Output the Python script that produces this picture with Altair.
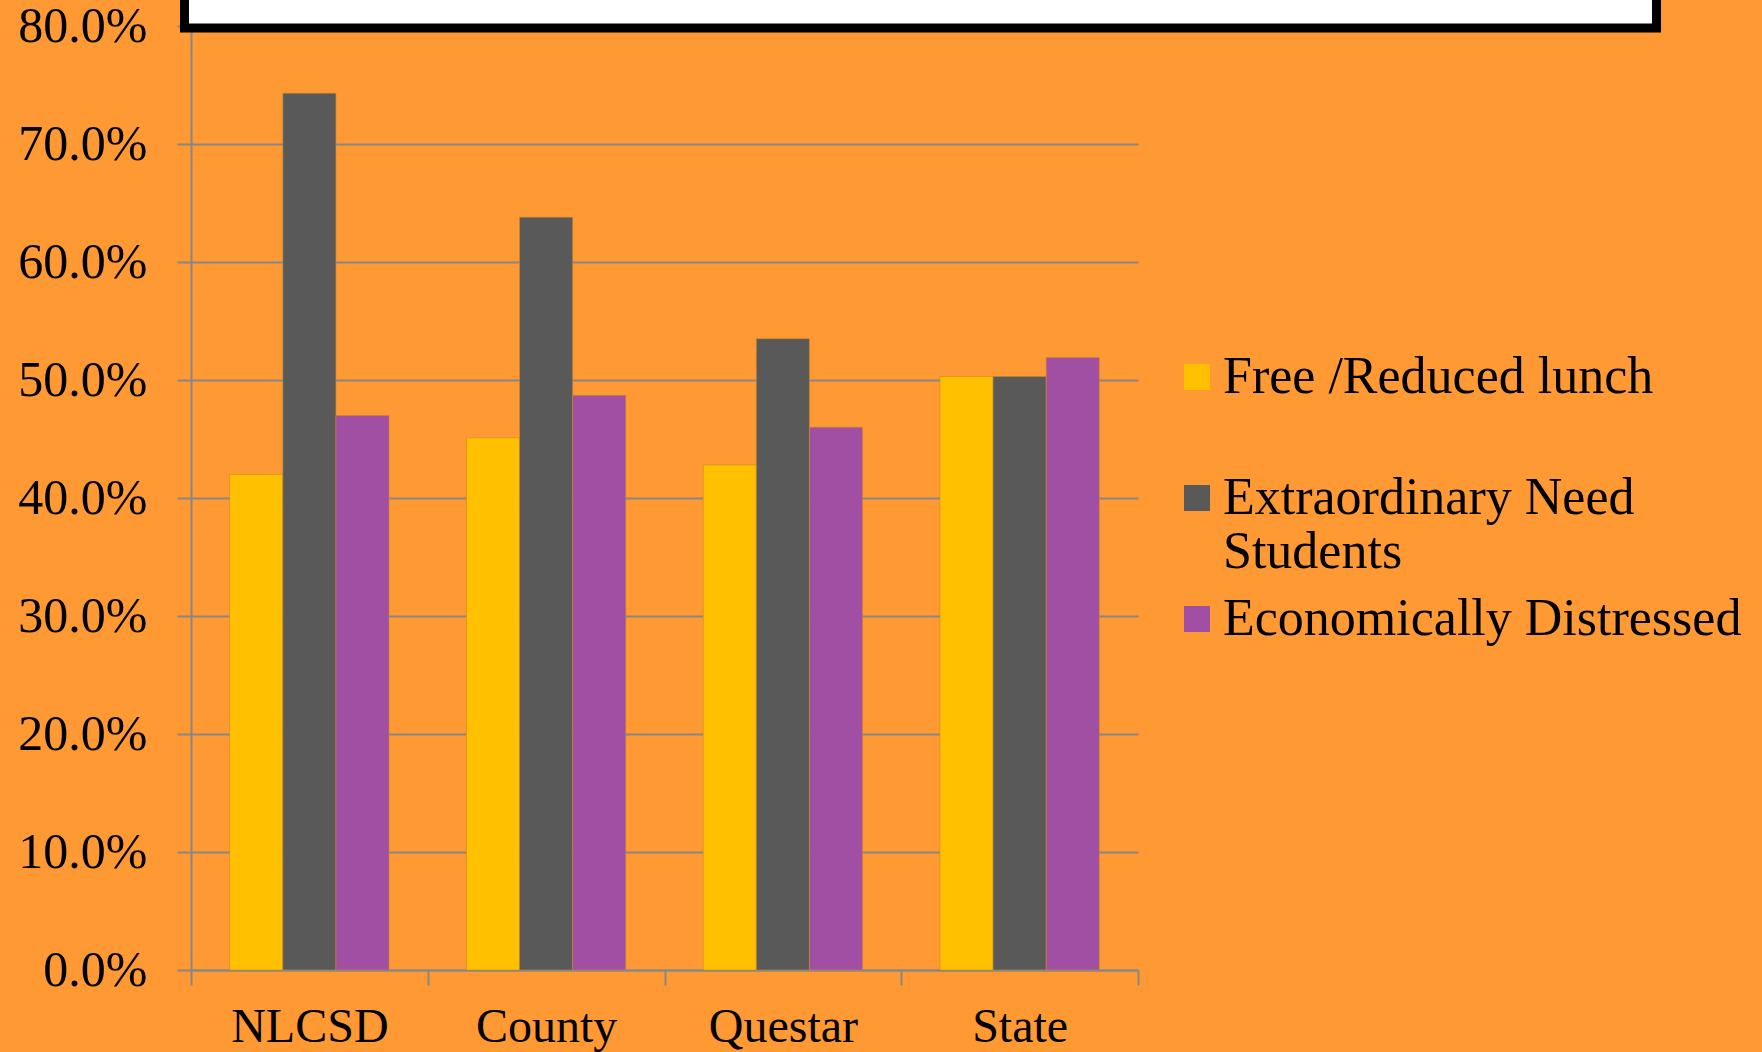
import altair as alt
import pandas as pd
import jinja2

categories = ["NLCSD", "County", "Questar", "State"]
series = ["Free /Reduced lunch", "Extraordinary Need Students", "Economically Distressed"]
free_reduced = [0.420, 0.451, 0.428, 0.503]
extraordinary = [0.743, 0.638, 0.535, 0.503]
econ_distressed = [0.470, 0.487, 0.460, 0.519]
colors = ["#FFC000", "#595959", "#A04FA2"]
y_ticks = [0.0, 0.1, 0.2, 0.3, 0.4, 0.5, 0.6, 0.7, 0.8]

rows = []
for i, c in enumerate(categories):
    for s, vals in zip(series, [free_reduced, extraordinary, econ_distressed]):
        rows.append({"category": c, "series": s, "value": vals[i]})
df = pd.DataFrame(rows)

FONT = "Liberation Serif"
GRID = "#878787"
BG = "#FF9933"

label_expr = (
    "datum.label == 'Extraordinary Need Students' ? ['Extraordinary Need', 'Students'] : "
    "(datum.label == 'Free /Reduced lunch' ? ['Free /Reduced lunch', ' '] : datum.label)"
)

bars = alt.Chart(df).mark_bar(stroke="#C98A2A", strokeWidth=1, strokeOpacity=0.6).encode(
    x=alt.X("category:N", sort=categories,
            scale=alt.Scale(paddingInner=0, paddingOuter=0),
            axis=alt.Axis(title=None, labelAngle=0, tickBand="extent", grid=False,
                          domainColor=GRID, domainWidth=2, tickColor=GRID, tickWidth=2,
                          tickSize=15, labelFont=FONT, labelFontSize=48, labelColor="black",
                          labelPadding=18, labelBaseline="top")),
    xOffset=alt.XOffset("series:N", sort=series,
                        scale=alt.Scale(paddingInner=0, paddingOuter=0.729)),
    y=alt.Y("value:Q", scale=alt.Scale(domain=[0, 0.8], nice=False),
            axis=alt.Axis(title=None, format=".1%", values=y_ticks, grid=True,
                          gridColor=GRID, gridWidth=2, domainColor=GRID, domainWidth=2,
                          tickColor=GRID, tickWidth=2, tickSize=14, labelFont=FONT,
                          labelFontSize=50, labelColor="black", labelPadding=30)),
    color=alt.Color("series:N", sort=series,
                    scale=alt.Scale(domain=series, range=colors),
                    legend=alt.Legend(title=None, orient="none", legendX=980, legendY=325,
                                      symbolType="square", symbolSize=676, symbolStrokeWidth=0,
                                      labelFont=FONT, labelFontSize=52, labelColor="black",
                                      labelLimit=900, labelOffset=0, rowPadding=15, padding=0,
                                      labelExpr=label_expr)),
)

box = alt.Chart(pd.DataFrame({"a": [0]})).mark_rect(
    fill="white", stroke="black", strokeWidth=9, clip=False
).encode(x=alt.value(-6.5), x2=alt.value(1465.5), y=alt.value(-80), y2=alt.value(2))

chart = alt.layer(bars, box).properties(
    width=947, height=944,
    padding={"left": 191, "top": 26, "right": 622, "bottom": 82},
    autosize=alt.AutoSizeParams(type="none"),
    background=BG,
).configure_view(stroke=None)

try:
    from altair.utils.html import HTML_TEMPLATE as _BASE
    _tmpl = jinja2.Template("")

    def _render(*args, **kwargs):
        html = _BASE.render(*args, **kwargs)
        style = "<style>html,body{background:%s;overflow:hidden;margin:0;padding:0;}</style>" % BG
        if "<head>" in html:
            return html.replace("<head>", "<head>\n" + style, 1)
        return html.replace("<style>", style + "\n<style>", 1)

    _tmpl.render = _render
    chart.save("out.html", embed_options={"renderer": "svg", "actions": False}, template=_tmpl)
except Exception:
    chart.save("out.html", embed_options={"renderer": "svg", "actions": False})
